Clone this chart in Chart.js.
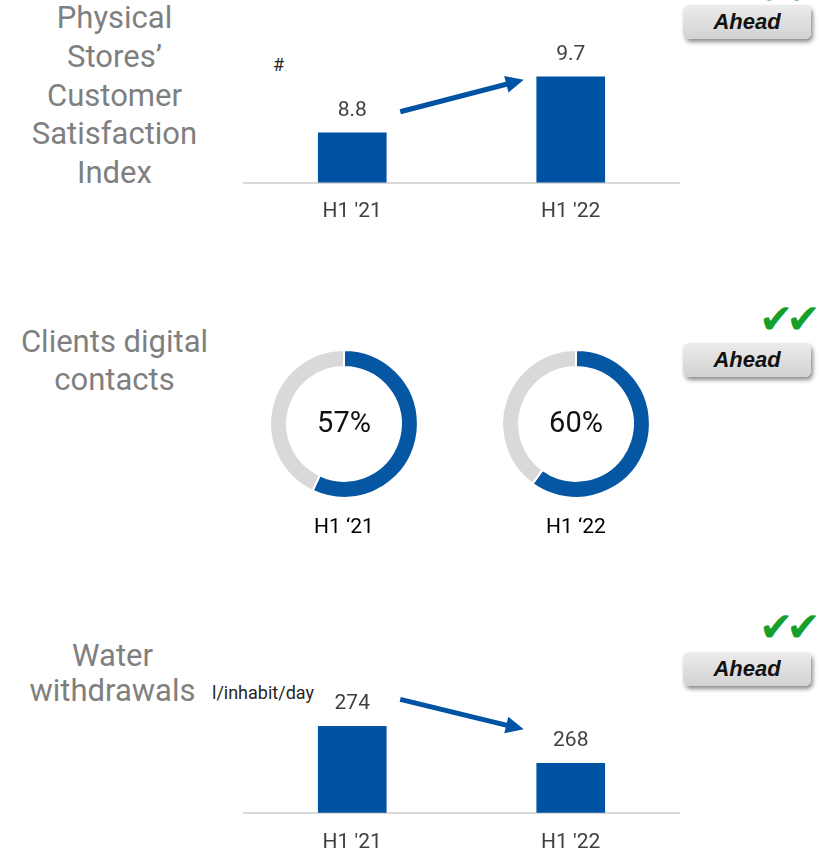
<!DOCTYPE html>
<html>
<head>
<meta charset="utf-8">
<script src="https://cdn.jsdelivr.net/npm/chart.js@4.4.1/dist/chart.umd.min.js"></script>
<style>
  body { margin: 0; background: #fff; width: 820px; height: 851px; overflow: hidden; position: relative; font-family: Roboto, sans-serif; }
  canvas { position: absolute; }
  .kpi { position: absolute; left: 0; width: 229px; text-align: center; color: #7f7f7f; font-size: 31px; }
  .unit { position: absolute; font-size: 18px; line-height: 18px; color: #262626; white-space: nowrap; }
  .badge { position: absolute; left: 683px; width: 128px; height: 34px; border-radius: 6px;
    background: linear-gradient(#ececec, #d2d2d2); box-shadow: 2px 3px 4px rgba(0,0,0,.45);
    text-align: center; line-height: 34px; font-family: "Liberation Sans", Arial, sans-serif;
    font-weight: bold; font-style: italic; font-size: 22px; color: #111; }
  .checks { position: absolute; left: 759px; font-family: "DejaVu Sans"; font-size: 41px; line-height: 41px;
    color: #14a02b; letter-spacing: -7px; white-space: nowrap; }
</style>
</head>
<body>

<div class="kpi" style="top:-1px; line-height:38.75px;">Physical<br>Stores’<br>Customer<br>Satisfaction<br>Index</div>
<div class="kpi" style="top:323px; line-height:38px;">Clients digital<br>contacts</div>
<div class="kpi" style="top:638px; line-height:35px; width:225px;">Water<br>withdrawals</div>

<div class="unit" style="left:273px; top:56px;">#</div>
<div class="unit" style="left:212px; top:684px;">l/inhabit/day</div>

<div class="checks" style="top:-30px;">✔✔</div>
<div class="badge" style="top:5px;">Ahead</div>
<div class="checks" style="top:299px;">✔✔</div>
<div class="badge" style="top:343px;">Ahead</div>
<div class="checks" style="top:607px;">✔✔</div>
<div class="badge" style="top:652px;">Ahead</div>

<canvas id="satisfaction" width="437" height="230" style="left:243px; top:0;"></canvas>
<canvas id="digital21" width="150" height="191" style="left:269px; top:349px;"></canvas>
<canvas id="digital22" width="150" height="191" style="left:501px; top:349px;"></canvas>
<canvas id="water" width="437" height="220" style="left:243px; top:640px;"></canvas>

<script>
// data
const periods = ["H1 '21", "H1 '22"];
const satisfaction = [8.8, 9.7];
const water = [274, 268];
const digitalPeriods = ["H1 ‘21", "H1 ‘22"];
const digitalShare = [57, 60];

const BLUE = '#0052a3';

const valueLabels = {
    id: 'valueLabels',
    afterDatasetsDraw(chart, args, opts) {
        const ctx = chart.ctx;
        const values = chart.data.datasets[0].data;
        ctx.save();
        ctx.font = '21px Roboto';
        ctx.fillStyle = '#404040';
        ctx.textAlign = 'center';
        ctx.textBaseline = 'alphabetic';
        chart.getDatasetMeta(0).data.forEach((bar, i) => {
            ctx.fillText(values[i].toFixed(opts.decimals), bar.x, bar.y - 17);
        });
        ctx.restore();
    }
};

const trendArrow = {
    id: 'trendArrow',
    afterDatasetsDraw(chart, args, opts) {
        const ctx = chart.ctx;
        const [a, b] = chart.getDatasetMeta(0).data;
        const x1 = a.x + opts.from[0], y1 = a.y + opts.from[1];
        const x2 = b.x + opts.to[0], y2 = b.y + opts.to[1];
        const ang = Math.atan2(y2 - y1, x2 - x1);
        const head = 18, half = 8.5;
        const bx = x2 - head * Math.cos(ang), by = y2 - head * Math.sin(ang);
        ctx.save();
        ctx.strokeStyle = BLUE;
        ctx.fillStyle = BLUE;
        ctx.lineWidth = 5;
        ctx.beginPath();
        ctx.moveTo(x1, y1);
        ctx.lineTo(bx + 2 * Math.cos(ang), by + 2 * Math.sin(ang));
        ctx.stroke();
        ctx.beginPath();
        ctx.moveTo(x2, y2);
        ctx.lineTo(bx + half * Math.sin(ang), by - half * Math.cos(ang));
        ctx.lineTo(bx - half * Math.sin(ang), by + half * Math.cos(ang));
        ctx.closePath();
        ctx.fill();
        ctx.restore();
    }
};

const centerText = {
    id: 'centerText',
    afterDraw(chart) {
        const ctx = chart.ctx;
        const arc = chart.getDatasetMeta(0).data[0];
        ctx.save();
        ctx.font = '29px Roboto';
        ctx.fillStyle = '#111';
        ctx.textAlign = 'center';
        ctx.textBaseline = 'middle';
        ctx.fillText(chart.data.datasets[0].data[0] + '%', arc.x, arc.y + 1);
        ctx.restore();
    }
};

function barChart(id, values, min, max, padTop, axisHeight, decimals, arrow) {
    return new Chart(document.getElementById(id), {
        type: 'bar',
        data: {
            labels: periods,
            datasets: [{ data: values, backgroundColor: BLUE, barThickness: 68 }]
        },
        plugins: [valueLabels, trendArrow],
        options: {
            responsive: false,
            animation: false,
            layout: { padding: { top: padTop, left: 0, right: 0, bottom: 0 } },
            plugins: {
                legend: { display: false },
                tooltip: { enabled: false },
                valueLabels: { decimals: decimals },
                trendArrow: arrow
            },
            scales: {
                y: { display: false, min: min, max: max },
                x: {
                    grid: { display: false },
                    border: { display: true, color: '#d9d9d9', width: 2 },
                    ticks: { color: '#404040', font: { family: 'Roboto', size: 21 }, padding: 9 },
                    afterFit(scale) { scale.height = axisHeight; }
                }
            }
        }
    });
}

function donut(id, i) {
    return new Chart(document.getElementById(id), {
        type: 'doughnut',
        data: {
            labels: ['digital', 'other'],
            datasets: [{
                data: [digitalShare[i], 100 - digitalShare[i]],
                backgroundColor: ['#0556a3', '#d9d9d9'],
                borderColor: '#fff',
                borderWidth: 2
            }]
        },
        plugins: [centerText],
        options: {
            responsive: false,
            animation: false,
            cutout: '77%',
            plugins: {
                legend: { display: false },
                tooltip: { enabled: false },
                title: {
                    display: true,
                    position: 'bottom',
                    text: digitalPeriods[i],
                    color: '#000',
                    font: { family: 'Roboto', size: 21, weight: 'normal' },
                    padding: { top: 16, bottom: 0 }
                }
            }
        }
    });
}

barChart('satisfaction', satisfaction, 8, 10.5, 27, 47.5, 1, { from: [48, -21], to: [-47, 3] });
donut('digital21', 0);
donut('digital22', 1);
barChart('water', water, 260, 280, 49.3, 47.3, 0, { from: [48, -27], to: [-47, -34] });
</script>
</body>
</html>
